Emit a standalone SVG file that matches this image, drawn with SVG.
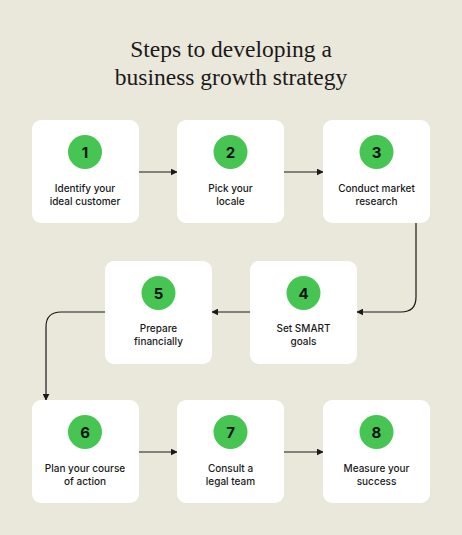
<svg xmlns="http://www.w3.org/2000/svg" width="462" height="535" viewBox="0 0 462 535">
<defs>
<style>
.card{fill:#ffffff}
.dot{fill:#46c553}
.num{font-family:Inter,"Liberation Sans",sans-serif;font-size:15px;font-weight:700;fill:#111;text-anchor:middle}
.lbl{font-family:Inter,"Liberation Sans",sans-serif;font-size:10px;font-weight:500;fill:#1a1a1a;text-anchor:middle}
.title{font-family:"Liberation Serif",serif;font-size:23.5px;fill:#1a1a1a;text-anchor:middle}
.conn{fill:none;stroke:#1a1a1a;stroke-width:1.2}
</style>
<marker id="ah" viewBox="0 0 10 10" refX="9" refY="5" markerWidth="7" markerHeight="7" markerUnits="userSpaceOnUse" orient="auto">
<path d="M0,0 L10,5 L0,10 z" fill="#1a1a1a"/>
</marker>
</defs>
<rect width="462" height="535" fill="#eae7db"/>
<text class="title" x="231" y="57">Steps to developing a</text>
<text class="title" x="231" y="85">business growth strategy</text>

<g id="connectors">
<path class="conn" d="M139,172 H177" marker-end="url(#ah)"/>
<path class="conn" d="M284,172 H323" marker-end="url(#ah)"/>
<path class="conn" d="M416,223 V297 Q416,312 401,312 H357" marker-end="url(#ah)"/>
<path class="conn" d="M250,312 H212" marker-end="url(#ah)"/>
<path class="conn" d="M105,312 H61 Q46,312 46,327 V400" marker-end="url(#ah)"/>
<path class="conn" d="M139,452 H177" marker-end="url(#ah)"/>
<path class="conn" d="M284,452 H323" marker-end="url(#ah)"/>
</g>

<g id="node1">
<rect class="card" x="32" y="120" width="107" height="103" rx="9"/>
<circle class="dot" cx="85" cy="152" r="17"/>
<text class="num" x="85" y="157.5">1</text>
<text class="lbl" x="85" y="192">Identify your</text>
<text class="lbl" x="85" y="205">ideal customer</text>
</g>
<g id="node2">
<rect class="card" x="177" y="120" width="107" height="103" rx="9"/>
<circle class="dot" cx="230.5" cy="152" r="17"/>
<text class="num" x="230.5" y="157.5">2</text>
<text class="lbl" x="230.5" y="192">Pick your</text>
<text class="lbl" x="230.5" y="205">locale</text>
</g>
<g id="node3">
<rect class="card" x="323" y="120" width="107" height="103" rx="9"/>
<circle class="dot" cx="376.5" cy="152" r="17"/>
<text class="num" x="376.5" y="157.5">3</text>
<text class="lbl" x="376.5" y="192">Conduct market</text>
<text class="lbl" x="376.5" y="205">research</text>
</g>
<g id="node4">
<rect class="card" x="250" y="261" width="107" height="103" rx="9"/>
<circle class="dot" cx="303.5" cy="293" r="17"/>
<text class="num" x="303.5" y="298.5">4</text>
<text class="lbl" x="303.5" y="332">Set SMART</text>
<text class="lbl" x="303.5" y="345">goals</text>
</g>
<g id="node5">
<rect class="card" x="105" y="261" width="107" height="103" rx="9"/>
<circle class="dot" cx="158.5" cy="293" r="17"/>
<text class="num" x="158.5" y="298.5">5</text>
<text class="lbl" x="158.5" y="332">Prepare</text>
<text class="lbl" x="158.5" y="345">financially</text>
</g>
<g id="node6">
<rect class="card" x="32" y="400" width="107" height="103" rx="9"/>
<circle class="dot" cx="85" cy="432" r="17"/>
<text class="num" x="85" y="437.5">6</text>
<text class="lbl" x="85" y="472">Plan your course</text>
<text class="lbl" x="85" y="485">of action</text>
</g>
<g id="node7">
<rect class="card" x="177" y="400" width="107" height="103" rx="9"/>
<circle class="dot" cx="230.5" cy="432" r="17"/>
<text class="num" x="230.5" y="437.5">7</text>
<text class="lbl" x="230.5" y="472">Consult a</text>
<text class="lbl" x="230.5" y="485">legal team</text>
</g>
<g id="node8">
<rect class="card" x="323" y="400" width="107" height="103" rx="9"/>
<circle class="dot" cx="376.5" cy="432" r="17"/>
<text class="num" x="376.5" y="437.5">8</text>
<text class="lbl" x="376.5" y="472">Measure your</text>
<text class="lbl" x="376.5" y="485">success</text>
</g>
</svg>
